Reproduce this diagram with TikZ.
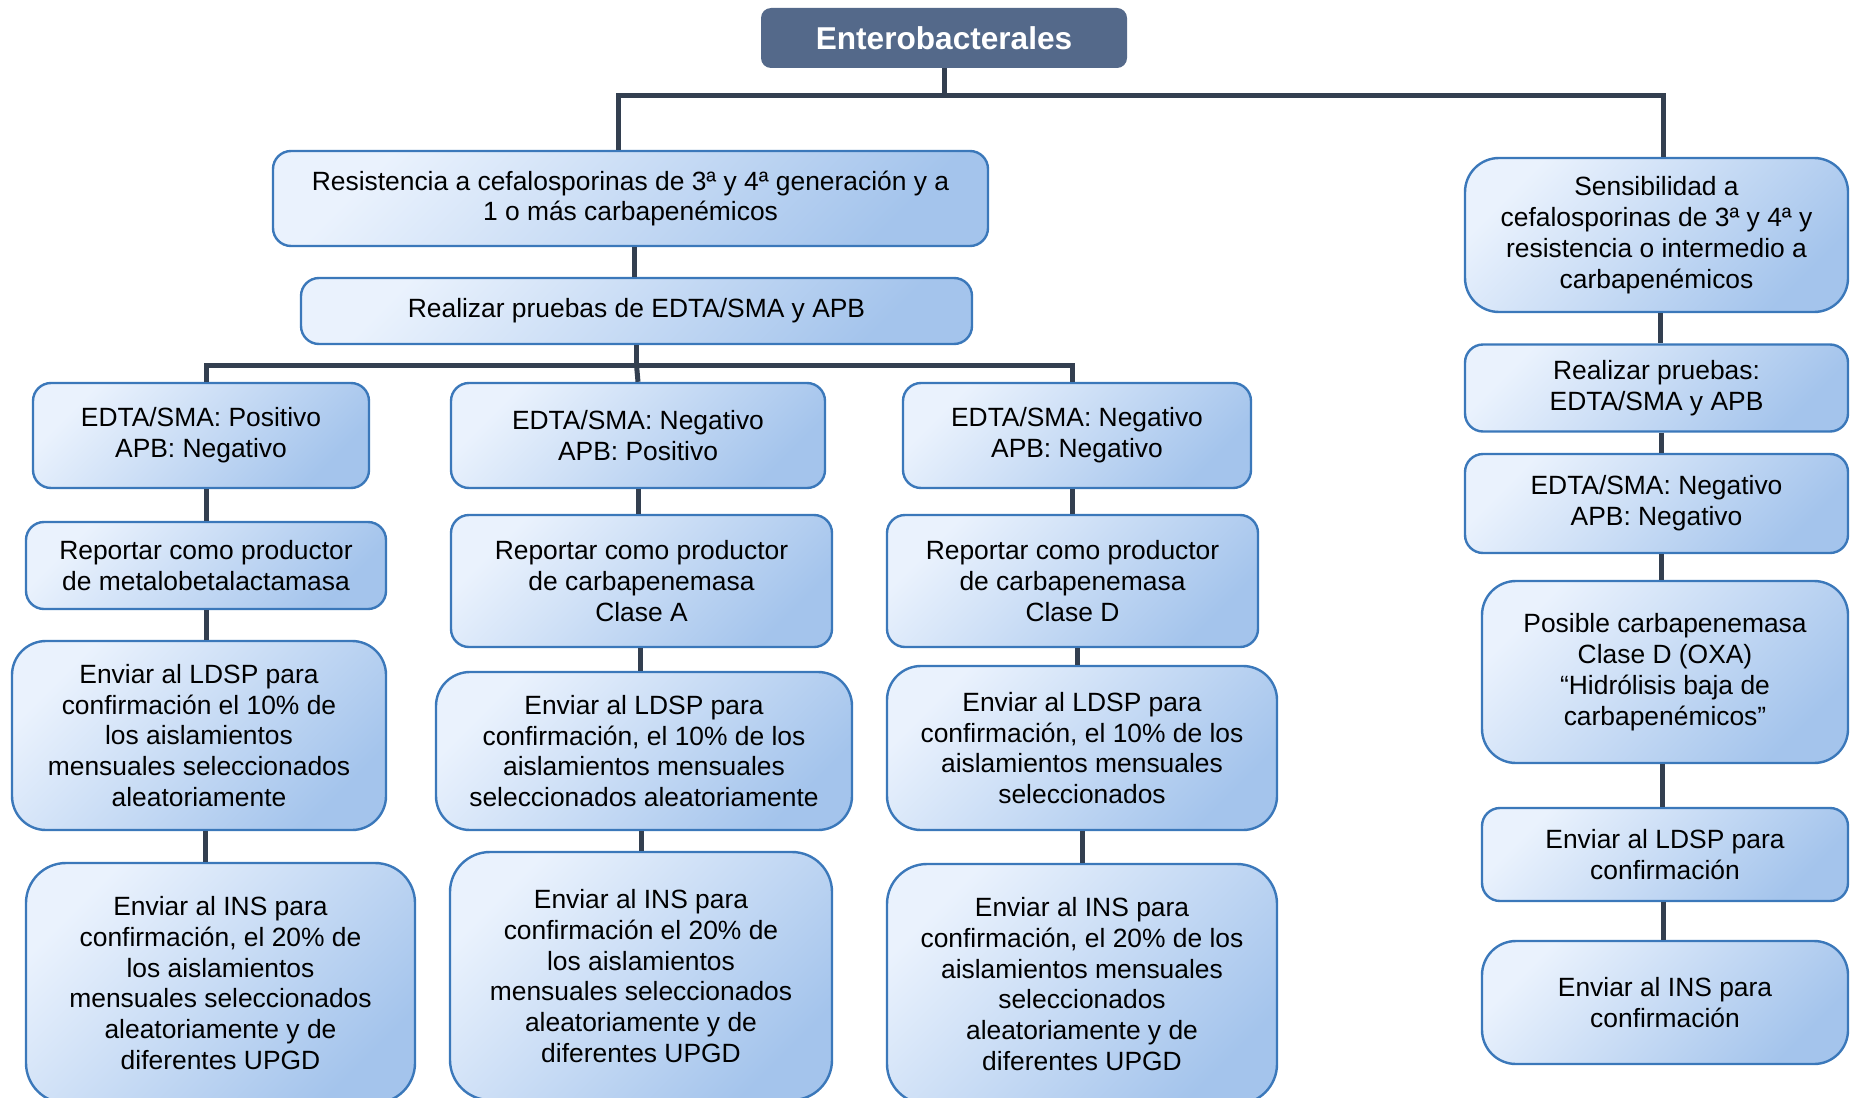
\documentclass[tikz,border=0pt]{standalone}
\usepackage{fontspec}
\setmainfont{Liberation Sans}
\usepackage{tikz}
\definecolor{head}{HTML}{54698A}
\definecolor{edge}{HTML}{3B78BA}
\definecolor{wire}{HTML}{333F50}
\definecolor{fillL}{HTML}{EAF2FD}
\definecolor{fillM}{HTML}{D6E7FA}
\definecolor{fillR}{HTML}{A4C4EC}
\tikzset{
  box/.style={draw=edge, line width=1.2pt, rounded corners=9pt, align=center,
    left color=fillL, middle color=fillM, right color=fillR, shading angle=45,
    inner sep=0pt, font=\fontsize{13.2}{15.4}\selectfont},
  tall/.style={box, rounded corners=17pt},
  top/.style={fill=head, rounded corners=5pt, text=white, inner sep=0pt,
    font=\fontsize{15.8}{18}\selectfont\bfseries},
  link/.style={draw=wire, line width=2.5pt},
}
\begin{document}
\begin{tikzpicture}[x=0.5pt,y=-0.5pt]
  \useasboundingbox (0,0) rectangle (1856,1097);
  \clip (0,0) rectangle (1856,1097);
  % title
  \node[top, minimum width=183pt, minimum height=30pt] (T) at (944,38) {Enterobacterales};
  % left branch
  \node[box, minimum width=357.5pt, minimum height=47.5pt] (A) at (630.5,198.5)
    {Resistencia a cefalosporinas de 3ª y 4ª generación y a\\1 o más carbapenémicos};
  \node[box, minimum width=335.5pt, minimum height=33pt] (B) at (636.5,311)
    {Realizar pruebas de EDTA/SMA y APB};
  \node[box, minimum width=168pt, minimum height=52.5pt] (C1) at (201,435.5)
    {EDTA/SMA: Positivo\\APB: Negativo};
  \node[box, minimum width=187pt, minimum height=52.5pt] (C2) at (638,435.5)
    {EDTA/SMA: Negativo\\APB: Positivo};
  \node[box, minimum width=174pt, minimum height=52.5pt] (C3) at (1077,435.5)
    {EDTA/SMA: Negativo\\APB: Negativo};
  \node[box, minimum width=180pt, minimum height=43.5pt] (D1) at (206,565.5)
    {Reportar como productor\\de metalobetalactamasa};
  \node[box, minimum width=190.5pt, minimum height=66pt] (D2) at (641.5,581)
    {Reportar como productor\\de carbapenemasa\\Clase A};
  \node[box, minimum width=185.5pt, minimum height=66pt] (D3) at (1072.5,581)
    {Reportar como productor\\de carbapenemasa\\Clase D};
  \node[tall, minimum width=187pt, minimum height=94.5pt] (E1) at (199,735.5)
    {Enviar al LDSP para\\confirmación el 10\% de\\los aislamientos\\mensuales seleccionados\\aleatoriamente};
  \node[tall, minimum width=208pt, minimum height=79pt] (E2) at (644,751)
    {Enviar al LDSP para\\confirmación, el 10\% de los\\aislamientos mensuales\\seleccionados aleatoriamente};
  \node[tall, minimum width=195pt, minimum height=82pt] (E3) at (1082,748)
    {Enviar al LDSP para\\confirmación, el 10\% de los\\aislamientos mensuales\\seleccionados};
  \node[tall, rounded corners=20pt, minimum width=194.5pt, minimum height=120pt] (F1) at (220.5,983)
    {Enviar al INS para\\confirmación, el 20\% de\\los aislamientos\\mensuales seleccionados\\aleatoriamente y de\\diferentes UPGD};
  \node[tall, rounded corners=20pt, minimum width=191pt, minimum height=124pt] (F2) at (641,976)
    {Enviar al INS para\\confirmación el 20\% de\\los aislamientos\\mensuales seleccionados\\aleatoriamente y de\\diferentes UPGD};
  \node[tall, rounded corners=20pt, minimum width=195pt, minimum height=120pt] (F3) at (1082,984)
    {Enviar al INS para\\confirmación, el 20\% de los\\aislamientos mensuales\\seleccionados\\aleatoriamente y de\\diferentes UPGD};
  % right branch
  \node[tall, minimum width=191.5pt, minimum height=77pt] (R1) at (1656.5,235)
    {Sensibilidad a\\cefalosporinas de 3ª y 4ª y\\resistencia o intermedio a\\carbapenémicos};
  \node[box, minimum width=191.5pt, minimum height=43.5pt] (R2) at (1656.5,388)
    {Realizar pruebas:\\EDTA/SMA y APB};
  \node[box, minimum width=191.5pt, minimum height=49.5pt] (R3) at (1656.5,503.5)
    {EDTA/SMA: Negativo\\APB: Negativo};
  \node[tall, minimum width=183pt, minimum height=91pt] (R4) at (1665,672)
    {Posible carbapenemasa\\Clase D (OXA)\\“Hidrólisis baja de\\carbapenémicos”};
  \node[box, minimum width=183pt, minimum height=46.5pt] (R5) at (1665,854.5)
    {Enviar al LDSP para\\confirmación};
  \node[tall, minimum width=183pt, minimum height=61.5pt] (R6) at (1665,1002.5)
    {Enviar al INS para\\confirmación};
  % connectors
  \coordinate (bus1) at (944,96);
  \coordinate (bus2) at (636.5,365);
  \draw[link] (T.south) -- (bus1);
  \draw[link] (618,0 |- A.north) |- (bus1) -| (1663,0 |- R1.north);
  \draw[link] (634,0 |- A.south) -- (634,0 |- B.north);
  \draw[link] (B.south) -- (bus2);
  \draw[link] (206,0 |- C1.north) |- (bus2) -| (1072,0 |- C3.north);
  \draw[link] (bus2) -- (638,0 |- C2.north);
  \foreach \U/\L/\X in {C1/D1/206,D1/E1/206,E1/F1/205,C2/D2/638,D2/E2/640,E2/F2/641,
                        C3/D3/1072,D3/E3/1077,E3/F3/1082,R1/R2/1660,R2/R3/1661,R3/R4/1661,R4/R5/1662,R5/R6/1663}
    \draw[link] (\X,0 |- \U.south) -- (\X,0 |- \L.north);
\end{tikzpicture}
\end{document}
